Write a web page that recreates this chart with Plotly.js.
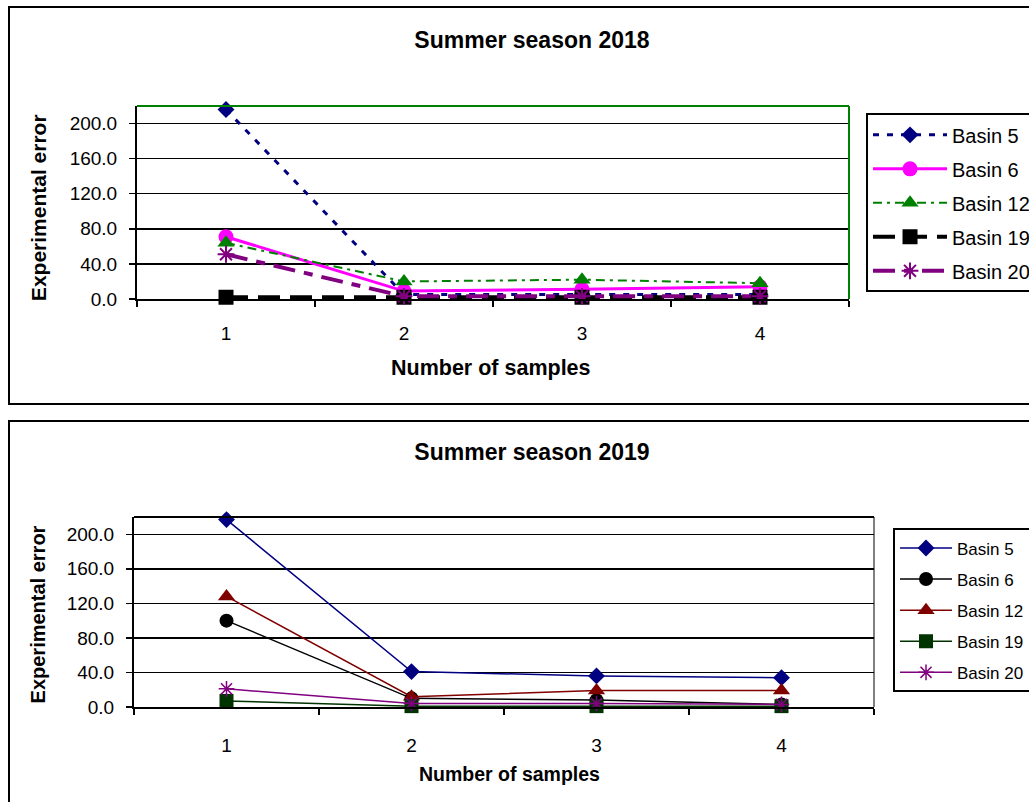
<!DOCTYPE html>
<html>
<head>
<meta charset="utf-8">
<script src="https://cdn.plot.ly/plotly-3.0.1.min.js"></script>
<style>
  html, body { margin: 0; padding: 0; background: #fff; width: 1029px; height: 802px; overflow: hidden; }
  .frame { position: absolute; border: 2px solid #000; box-sizing: border-box; }
  .chart { position: absolute; left: 0; width: 1029px; }
</style>
</head>
<body>
<div class="frame" style="left:8px; top:6px; width:1040px; height:399px;"></div>
<div class="frame" style="left:8px; top:420px; width:1040px; height:400px;"></div>
<div id="c2018" class="chart" style="top:0px; height:410px;"></div>
<div id="c2019" class="chart" style="top:410px; height:392px;"></div>
<script>
// ---- data ----
const categories = ['1', '2', '3', '4'];
const seriesNames = ['Basin 5', 'Basin 6', 'Basin 12', 'Basin 19', 'Basin 20'];

// Summer season 2018
const s2018_basin5  = [216, 5, 5, 5];
const s2018_basin6  = [71, 9, 11, 14];
const s2018_basin12 = [64, 20, 22, 18];
const s2018_basin19 = [2, 2, 2, 2];
const s2018_basin20 = [51, 3, 3, 3];

// Summer season 2019
const s2019_basin5  = [217, 41, 36, 34];
const s2019_basin6  = [100, 10, 8, 3];
const s2019_basin12 = [128, 12, 19, 19];
const s2019_basin19 = [7, 1, 1, 1];
const s2019_basin20 = [21, 4, 4, 3];

const yTicks = [0, 40, 80, 120, 160, 200];
const titles = ['Summer season 2018', 'Summer season 2019'];
const xTitle = 'Number of samples';
const yTitle = 'Experimental error';

const FONT = 'Liberation Sans, Arial, sans-serif';

// ---- 2018 chart ----
const style2018 = [
  {line: {color: '#000080', width: 3, dash: '6px,8px'}, marker: {symbol: 'diamond', size: 13, color: '#000080'}},
  {line: {color: '#FF00FF', width: 3}, marker: {symbol: 'circle', size: 15, color: '#FF00FF'}},
  {line: {color: '#008000', width: 2, dash: '9px,5px,3px,5px'}, marker: {symbol: 'triangle-up', size: 15, color: '#008000'}},
  {line: {color: '#000000', width: 4, dash: '22px,10px'}, marker: {symbol: 'square', size: 15, color: '#000000'}},
  {line: {color: '#800080', width: 4, dash: '22px,9px,9px,9px'}, marker: {symbol: 'asterisk-open', size: 14, color: '#800080', line: {width: 2, color: '#800080'}}}
];
const vals2018 = [s2018_basin5, s2018_basin6, s2018_basin12, s2018_basin19, s2018_basin20];
const traces2018 = seriesNames.map((n, i) => Object.assign({
  type: 'scatter', mode: 'lines+markers', name: n, x: categories, y: vals2018[i],
  legendgroup: 'g' + i, cliponaxis: false
}, style2018[i]));

function baseAxis(tickStandoff) {
  return {
    type: 'category', range: [-0.5, 3.5], tickson: 'boundaries', ticks: 'outside', ticklen: 6, tickwidth: 1.5, tickcolor: '#000',
    showline: true, linecolor: '#000', linewidth: 2, showgrid: false, zeroline: false,
    tickfont: {family: FONT, size: 19, color: '#000'}, ticklabelstandoff: tickStandoff, fixedrange: true
  };
}
function baseYAxis() {
  return {
    range: [0, 220], tickvals: yTicks, tickformat: '.1f', ticks: 'outside', ticklen: 6, tickwidth: 1.5, tickcolor: '#000',
    showline: true, linecolor: '#000', linewidth: 2, showgrid: true, gridcolor: '#000', gridwidth: 1.5,
    zeroline: false, tickfont: {family: FONT, size: 19, color: '#000'}, ticklabelstandoff: 8, fixedrange: true
  };
}

const layout2018 = {
  width: 1029, height: 410,
  margin: {l: 137, r: 180, t: 106, b: 111, autoexpand: false},
  paper_bgcolor: 'rgba(0,0,0,0)', plot_bgcolor: '#fff',
  font: {family: FONT, color: '#000'},
  title: {text: titles[0], font: {family: FONT, size: 23, weight: 'bold', color: '#000'},
          x: 0.517, xref: 'container', xanchor: 'center', y: 0.902, yref: 'container', yanchor: 'middle'},
  xaxis: baseAxis(16),
  yaxis: baseYAxis(),
  showlegend: true,
  legend: {x: 1.0239, xanchor: 'left', y: 0.962, yanchor: 'top', bordercolor: '#000', borderwidth: 2,
           bgcolor: '#fff', font: {family: FONT, size: 20, color: '#000'}, tracegroupgap: 5, itemwidth: 74,
           traceorder: 'grouped'},
  shapes: [
    {type: 'line', xref: 'paper', yref: 'paper', x0: 0, x1: 1, y0: 1, y1: 1, line: {color: '#008000', width: 2}},
    {type: 'line', xref: 'paper', yref: 'paper', x0: 1, x1: 1, y0: 0, y1: 1, line: {color: '#008000', width: 2}}
  ],
  annotations: [
    {text: xTitle, xref: 'paper', yref: 'paper', x: 0.497, y: -0.357, xanchor: 'center', yanchor: 'middle',
     showarrow: false, font: {family: FONT, size: 21.5, weight: 'bold', color: '#000'}},
    {text: yTitle, xref: 'paper', yref: 'paper', x: -0.139, y: 0.471, xanchor: 'center', yanchor: 'middle',
     textangle: -90, showarrow: false, font: {family: FONT, size: 21, weight: 'bold', color: '#000'}}
  ]
};
Plotly.newPlot('c2018', traces2018, layout2018, {displayModeBar: false, staticPlot: true});

// ---- 2019 chart ----
const style2019 = [
  {line: {color: '#000080', width: 1.5}, marker: {symbol: 'diamond', size: 13, color: '#000080'}},
  {line: {color: '#000000', width: 1.5}, marker: {symbol: 'circle', size: 14, color: '#000000'}},
  {line: {color: '#800000', width: 1.5}, marker: {symbol: 'triangle-up', size: 15, color: '#800000'}},
  {line: {color: '#003300', width: 1.5}, marker: {symbol: 'square', size: 14, color: '#003300'}},
  {line: {color: '#800080', width: 1.5}, marker: {symbol: 'asterisk-open', size: 13, color: '#800080', line: {width: 1.5, color: '#800080'}}}
];
const vals2019 = [s2019_basin5, s2019_basin6, s2019_basin12, s2019_basin19, s2019_basin20];
const traces2019 = seriesNames.map((n, i) => Object.assign({
  type: 'scatter', mode: 'lines+markers', name: n, x: categories, y: vals2019[i],
  legendgroup: 'g' + i, cliponaxis: false
}, style2019[i]));

const layout2019 = {
  width: 1029, height: 392,
  margin: {l: 134, r: 155, t: 107, b: 95, autoexpand: false},
  paper_bgcolor: 'rgba(0,0,0,0)', plot_bgcolor: '#fff',
  font: {family: FONT, color: '#000'},
  title: {text: titles[1], font: {family: FONT, size: 23, weight: 'bold', color: '#000'},
          x: 0.517, xref: 'container', xanchor: 'center', y: 0.893, yref: 'container', yanchor: 'middle'},
  xaxis: baseAxis(20),
  yaxis: baseYAxis(),
  showlegend: true,
  legend: {x: 1.0257, xanchor: 'left', y: 0.94, yanchor: 'top', bordercolor: '#000', borderwidth: 2,
           bgcolor: '#fff', font: {family: FONT, size: 17, color: '#000'}, tracegroupgap: 6, itemwidth: 52,
           traceorder: 'grouped'},
  shapes: [
    {type: 'line', xref: 'paper', yref: 'paper', x0: 0, x1: 1, y0: 1, y1: 1, line: {color: '#000', width: 2}},
    {type: 'line', xref: 'paper', yref: 'paper', x0: 1, x1: 1, y0: 0, y1: 1, line: {color: '#000', width: 1}}
  ],
  annotations: [
    {text: xTitle, xref: 'paper', yref: 'paper', x: 0.508, y: -0.351, xanchor: 'center', yanchor: 'middle',
     showarrow: false, font: {family: FONT, size: 19.5, weight: 'bold', color: '#000'}},
    {text: yTitle, xref: 'paper', yref: 'paper', x: -0.13, y: 0.486, xanchor: 'center', yanchor: 'middle',
     textangle: -90, showarrow: false, font: {family: FONT, size: 20, weight: 'bold', color: '#000'}}
  ]
};
Plotly.newPlot('c2019', traces2019, layout2019, {displayModeBar: false, staticPlot: true});
</script>
</body>
</html>
